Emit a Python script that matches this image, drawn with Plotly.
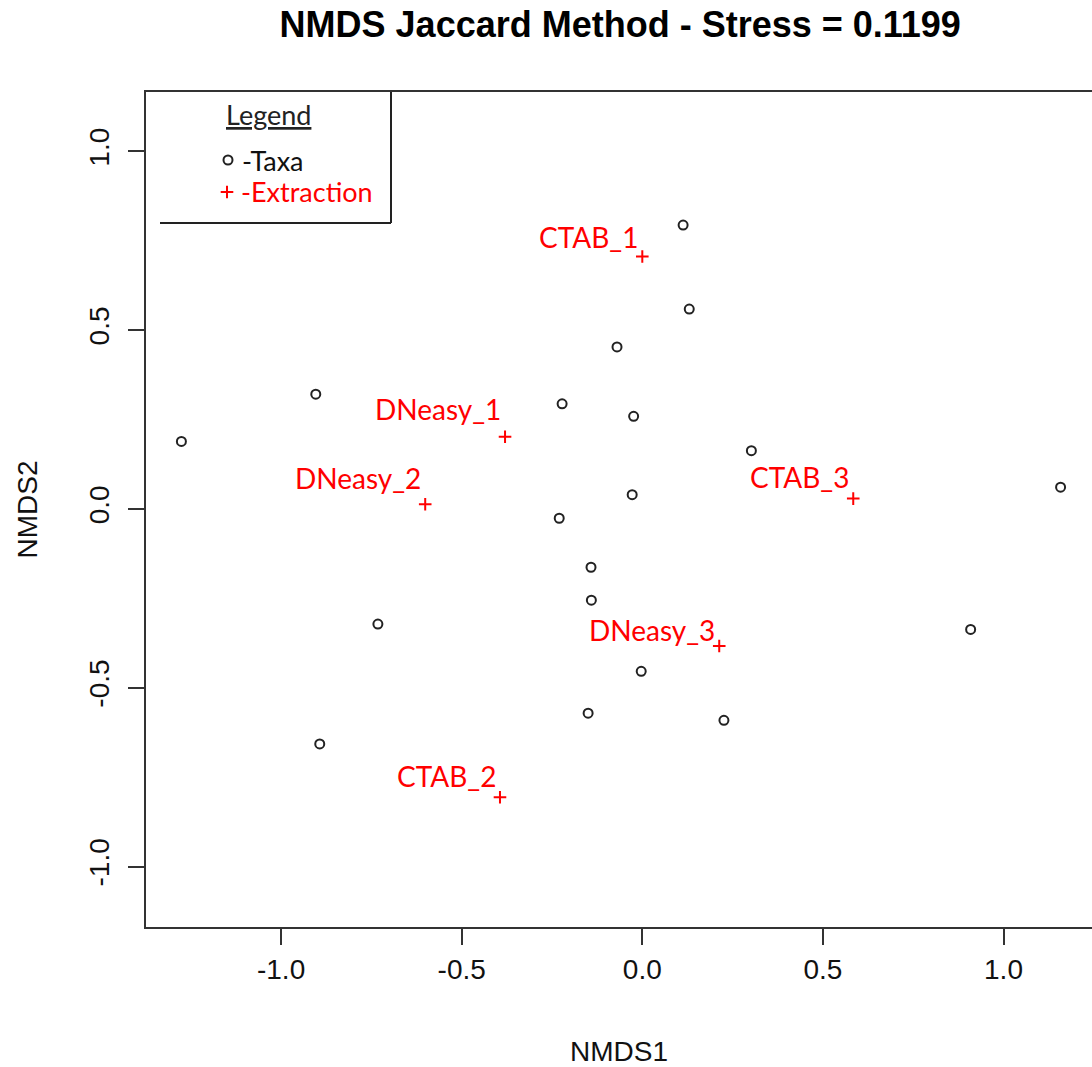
import plotly.graph_objects as go

# Taxa scores
taxa_x = [-1.276, -0.904, 0.113, 0.130, -0.070, -0.222, -0.024, 0.302, -0.028, -0.230,
          -0.142, -0.141, -0.003, -0.150, 0.226, -0.732, -0.893, 1.158, 0.909]
taxa_y = [0.189, 0.321, 0.794, 0.559, 0.453, 0.294, 0.259, 0.163, 0.040, -0.026,
          -0.163, -0.255, -0.454, -0.571, -0.591, -0.322, -0.657, 0.061, -0.337]

# Extraction (site) scores
ext_names = ["CTAB_1", "CTAB_2", "CTAB_3", "DNeasy_1", "DNeasy_2", "DNeasy_3"]
ext_x = [0.000, -0.394, 0.584, -0.380, -0.601, 0.213]
ext_y = [0.706, -0.806, 0.029, 0.202, 0.013, -0.383]

tick_vals = [-1.0, -0.5, 0.0, 0.5, 1.0]
tick_text = ["-1.0", "-0.5", "0.0", "0.5", "1.0"]

# label offsets (pixels above point) - style
label_yshift = [20, 21, 22, 28, 26, 16]

AXFONT = "Liberation Sans, Arial, sans-serif"
LABFONT = "Lato, Open Sans, sans-serif"
RED = "#ff0000"
DARK = "#333333"

fig = go.Figure()
fig.add_trace(go.Scatter(
    x=taxa_x, y=taxa_y, mode="markers", name="Taxa",
    marker=dict(symbol="circle-open", size=9, color="#222222", line=dict(width=2, color="#222222")),
))
fig.add_trace(go.Scatter(
    x=ext_x, y=ext_y, mode="markers", name="Extraction",
    marker=dict(symbol="cross-thin", size=9, color=RED, line=dict(width=2, color=RED)),
))

annotations = []
for n, x, y, dy in zip(ext_names, ext_x, ext_y, label_yshift):
    annotations.append(dict(
        x=x, y=y, xref="x", yref="y", text=n, showarrow=False,
        xanchor="right", yanchor="middle", xshift=-2, yshift=dy,
        font=dict(family=LABFONT, size=28, color=RED),
    ))

fig.update_layout(
    width=1092, height=1067,
    margin=dict(l=146, r=0, t=92, b=140, pad=0),
    plot_bgcolor="white", paper_bgcolor="white",
    showlegend=False,
    title=dict(text="<b>NMDS Jaccard Method - Stress = 0.1199</b>", x=0.568, xanchor="center",
               y=0.977, yanchor="middle",
               font=dict(family=AXFONT, size=36, color="#000000")),
    xaxis=dict(range=[-1.374, 1.245], tickvals=tick_vals, ticktext=tick_text,
               showgrid=False, zeroline=False, showline=True, linecolor=DARK, linewidth=2,
               mirror=True, ticks="outside", ticklen=16, tickwidth=2, tickcolor=DARK,
               tickfont=dict(family=AXFONT, size=28, color="#111111"),
               ticklabelstandoff=0,
               title=dict(text="NMDS1", font=dict(family=AXFONT, size=28, color="#111111"), standoff=59)),
    yaxis=dict(range=[-1.169, 1.166], tickvals=tick_vals, ticktext=tick_text,
               showgrid=False, zeroline=False, showline=True, linecolor=DARK, linewidth=2,
               ticks="outside", ticklen=16, tickwidth=2, tickcolor=DARK, tickangle=-90,
               tickfont=dict(family=AXFONT, size=28, color="#111111"),
               ticklabelstandoff=8,
               title=dict(text="NMDS2", font=dict(family=AXFONT, size=28, color="#111111"), standoff=38)),
)

# legend box (pixel-like placement converted to paper coords)
W, H = 1092, 1067
L, R_, T, B = 146, 0, 92, 140
pw, ph = W - L - R_, H - T - B
def px(xp):
    return (xp - L) / pw
def py(yp):
    return (H - B - yp) / ph

fig.add_shape(type="line", xref="paper", yref="paper", x0=px(160), x1=px(391), y0=py(223), y1=py(223),
              line=dict(color="#222222", width=2))
fig.add_shape(type="line", xref="paper", yref="paper", x0=px(391), x1=px(391), y0=py(92), y1=py(223),
              line=dict(color="#222222", width=2))

annotations += [
    dict(x=px(268), y=py(115), xref="paper", yref="paper", text="<u>Legend</u>", showarrow=False,
         xanchor="center", yanchor="middle", font=dict(family=LABFONT, size=27, color="#222222")),
    dict(x=px(240), y=py(160), xref="paper", yref="paper", text="-Taxa", showarrow=False,
         xanchor="left", yanchor="middle", font=dict(family=LABFONT, size=27, color="#111111")),
    dict(x=px(239), y=py(192), xref="paper", yref="paper", text="-Extraction", showarrow=False,
         xanchor="left", yanchor="middle", font=dict(family=LABFONT, size=27, color=RED)),
]
fig.update_layout(annotations=annotations)

# legend symbols
fig.add_trace(go.Scatter(
    x=[px(228)], y=[py(160)], xaxis="x2", yaxis="y2", mode="markers",
    marker=dict(symbol="circle-open", size=9, color="#222222", line=dict(width=2, color="#222222")),
    hoverinfo="skip"))
fig.add_trace(go.Scatter(
    x=[px(227)], y=[py(192)], xaxis="x2", yaxis="y2", mode="markers",
    marker=dict(symbol="cross-thin", size=9, color=RED, line=dict(width=2, color=RED)),
    hoverinfo="skip"))
fig.update_layout(
    xaxis2=dict(range=[0, 1], domain=[0, 1], overlaying="x", visible=False, fixedrange=True),
    yaxis2=dict(range=[0, 1], domain=[0, 1], overlaying="y", visible=False, fixedrange=True),
)

fig.write_html("out.html", config={"displayModeBar": False},
               post_script="document.body.style.margin='0';")
